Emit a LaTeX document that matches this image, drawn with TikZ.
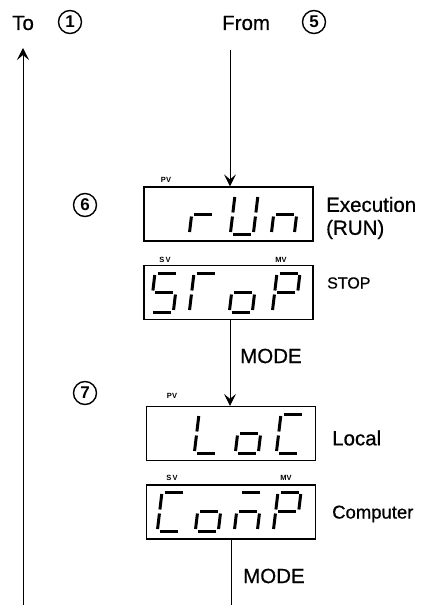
\documentclass[tikz,border=0pt]{standalone}
\usepackage{fontspec}
\setmainfont{Liberation Sans}
\newfontfamily\medfont{Liberation Sans}[FakeBold=0.6]
\usetikzlibrary{positioning, arrows.meta, calc}

% seven-segment pieces, cell 23 wide, 39 high, y running down
\newcommand{\lcdsega}{\draw[seg] (2.5,0) -- (20.5,0);}
\newcommand{\lcdsegb}{\draw[seg] (23,2) -- (23,17.5);}
\newcommand{\lcdsegc}{\draw[seg] (23,21.5) -- (23,37);}
\newcommand{\lcdsegd}{\draw[seg] (2.5,39) -- (20.5,39);}
\newcommand{\lcdsege}{\draw[seg] (0,21.5) -- (0,37);}
\newcommand{\lcdsegf}{\draw[seg] (0,2) -- (0,17.5);}
\newcommand{\lcdsegg}{\draw[seg] (2.5,19.5) -- (20.5,19.5);}
\newcommand{\lcdchar}[3]{%
  \begin{scope}[shift={(#1,#2)}, xslant=0.12]
    \foreach \s in {#3} {\csname lcdseg\s\endcsname}
  \end{scope}}

\begin{document}
\begin{tikzpicture}[x=1pt, y=-1pt,
    lbl/.style={font=\medfont\fontsize{20.5}{23}\selectfont, inner sep=0pt},
    tiny/.style={font=\fontsize{7.5}{8}\selectfont\bfseries, inner sep=0pt},
    numcirc/.style={circle, draw, line width=1.4pt, minimum size=23pt,
                    inner sep=0pt, font=\fontsize{17}{17}\selectfont\bfseries},
    lcdbox/.style={draw, line width=1.2pt, minimum width=169pt,
                   minimum height=54pt, inner sep=0pt},
    seg/.style={line width=3pt},
    arr/.style={-{Stealth[length=12pt, width=12pt, inset=5pt]}, line width=1pt}]
  \useasboundingbox (0,0) rectangle (426,605);

  % headings
  \node[lbl, anchor=west] (to) at (12,23) {To};
  \node[numcirc] (c1) at (70,22) {1};
  \node[lbl, anchor=west] (from) at (222,23) {From};
  \node[numcirc] (c5) at (314,22) {5};

  % step 6
  \node[numcirc] (c6) at (85,205) {6};
  \node[lcdbox] (run) at (228.5,214) {};
  \node[lcdbox] (stop) at (228.5,292.5) {};
  \node[tiny] (pv1) at (166,180) {PV};
  \node[tiny] (sv1) at (165,260) {S\,V};
  \node[tiny] (mv1) at (281,260) {MV};
  \lcdchar{194}{195}{e,g}
  \lcdchar{235}{195}{b,c,d,e,f}
  \lcdchar{276}{195}{c,e,g}
  \lcdchar{155}{273}{a,f,g,c,d}
  \lcdchar{194}{273}{a,e,f}
  \lcdchar{234}{273}{c,d,e,g}
  \lcdchar{277}{273}{a,b,e,f,g}
  \node[lbl, align=left, anchor=west] (exec) at (326,218) {Execution\\(RUN)};
  \node[lbl, anchor=west, font=\medfont\fontsize{16}{17}\selectfont] (stoplbl) at (327,283) {STOP};

  % step 7
  \node[numcirc] (c7) at (85,393) {7};
  \node[lcdbox] (loc) at (231,433.5) {};
  \node[lcdbox] (comp) at (231,512) {};
  \node[tiny] (pv2) at (172,396) {PV};
  \node[tiny] (sv2) at (172,478) {S\,V};
  \node[tiny] (mv2) at (286,478) {MV};
  \lcdchar{199}{414}{d,e,f}
  \lcdchar{240}{414}{c,d,e,g}
  \lcdchar{281}{414}{a,d,e,f}
  \lcdchar{162}{492}{a,d,e,f}
  \lcdchar{200}{492}{c,d,e,g}
  \lcdchar{239}{492}{a,c,e,g}
  \lcdchar{278}{492}{a,b,e,f,g}
  \node[lbl, anchor=west] (loclbl) at (332,438) {Local};
  \node[lbl, anchor=west, font=\medfont\fontsize{18.5}{19}\selectfont] (complbl) at (332,514) {Computer};

  % connectors
  \coordinate (ltop) at (23,48);
  \coordinate (lbot) at (23,605);
  \draw[arr] (lbot) -- (ltop);
  \coordinate (ftop) at (230,50);
  \draw[arr] (ftop) -- (ftop |- run.north);
  \draw[arr] (ftop |- stop.south) -- (ftop |- loc.north);
  \node[lbl, anchor=west] (mode1) at (240,356) {MODE};
  \coordinate (cbot) at (231,605);
  \draw[line width=1pt] (comp.south) -- (cbot);
  \node[lbl, anchor=west] (mode2) at (243,576) {MODE};
\end{tikzpicture}
\end{document}
